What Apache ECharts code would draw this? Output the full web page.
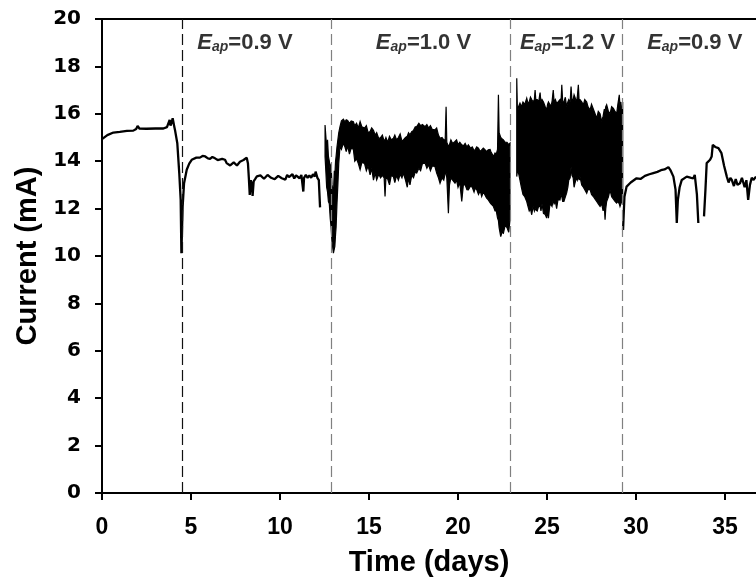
<!DOCTYPE html>
<html><head><meta charset="utf-8">
<script src="https://cdn.jsdelivr.net/npm/echarts@6/dist/echarts.min.js"></script>
<style>html,body{margin:0;padding:0;background:#fff}#c{width:756px;height:582px}</style>
</head><body><div id="c"></div>
<script>
// ---- tick labels ----
const xTickValues = [0, 5, 10, 15, 20, 25, 30, 35];
const yTickValues = [0, 2, 4, 6, 8, 10, 12, 14, 16, 18, 20];

// ---- trace before the noisy period (days, mA) ----
const timeA = [0, 0.1, 0.3, 0.64, 1.0, 1.4, 1.76, 1.92, 2.0, 2.1, 2.5, 3.0, 3.45, 3.65, 3.73, 3.8, 3.85, 3.9, 3.97, 4.05, 4.1, 4.23, 4.34, 4.42, 4.46, 4.53, 4.61, 4.76, 4.9, 5.04, 5.3, 5.5, 5.65, 5.8, 5.95, 6.07, 6.2, 6.35, 6.5, 6.6, 6.75, 6.91, 7.0, 7.1, 7.2, 7.29, 7.4, 7.5, 7.58, 7.66, 7.75, 7.85, 7.95, 8.03, 8.13, 8.2, 8.25, 8.3, 8.36, 8.42, 8.46, 8.52, 8.6, 8.7, 8.8, 8.9, 9.0, 9.1, 9.2, 9.3, 9.4, 9.5, 9.6, 9.7, 9.8, 9.9, 10.0, 10.1, 10.2, 10.3, 10.4, 10.5, 10.6, 10.7, 10.8, 10.9, 11.0, 11.1, 11.2, 11.27, 11.31, 11.35, 11.45, 11.55, 11.65, 11.75, 11.85, 11.95, 12.0, 12.1, 12.18, 12.25];
const currentA = [14.93, 15.0, 15.1, 15.21, 15.24, 15.28, 15.29, 15.36, 15.49, 15.38, 15.37, 15.38, 15.38, 15.44, 15.46, 15.74, 15.5, 15.6, 15.81, 15.5, 15.32, 14.76, 13.5, 12.37, 10.12, 12.09, 13.07, 13.64, 13.9, 14.06, 14.15, 14.15, 14.22, 14.2, 14.12, 14.1, 14.18, 14.12, 14.05, 14.0, 14.1, 14.06, 13.92, 13.95, 13.82, 13.85, 13.95, 13.95, 13.82, 13.85, 13.98, 13.95, 14.05, 14.06, 14.15, 13.9, 13.28, 12.58, 13.2, 13.0, 12.54, 13.15, 13.24, 13.36, 13.3, 13.4, 13.36, 13.26, 13.28, 13.42, 13.4, 13.3, 13.32, 13.24, 13.25, 13.38, 13.37, 13.28, 13.3, 13.22, 13.42, 13.33, 13.33, 13.45, 13.27, 13.4, 13.38, 13.28, 13.42, 13.35, 12.72, 13.3, 13.42, 13.3, 13.4, 13.3, 13.45, 13.35, 13.56, 13.3, 13.2, 12.05];

// ---- trace after the 1.2 V period ----
const timeB = [29.27, 29.35, 29.47, 29.7, 30.03, 30.25, 30.5, 30.75, 30.97, 31.2, 31.4, 31.6, 31.82, 31.95, 32.1, 32.22, 32.29, 32.35, 32.45, 32.57, 32.85, 33.1, 33.22, 33.3, 33.42, 33.5, 33.6, 33.82, 33.9, 33.97, 34.16, 34.25, 34.31, 34.45, 34.63, 34.8, 34.95, 35.1, 35.2, 35.3, 35.38, 35.5, 35.6, 35.7, 35.84, 35.95, 36.1, 36.2, 36.3, 36.4, 36.5, 36.59, 36.74];
const currentB = [11.1, 12.5, 12.93, 13.1, 13.28, 13.25, 13.38, 13.45, 13.5, 13.55, 13.62, 13.65, 13.75, 13.6, 13.35, 12.8, 11.39, 12.37, 12.9, 13.21, 13.35, 13.3, 13.28, 13.42, 12.6, 11.39, null, 11.67, 12.8, 13.92, 14.06, 14.2, 14.69, 14.6, 14.55, 14.34, 13.8, 13.35, 13.1, 13.3, 13.21, 12.95, 13.25, 13.0, 13.07, 13.3, 12.9, 13.2, 12.37, 13.0, 13.3, 13.21, 13.35];

// ---- noisy band, 1.0 V period: upper / lower envelope ----
const band1Time = [12.53, 12.58, 12.62, 12.67, 12.72, 12.77, 12.82, 12.87, 12.92, 12.97, 13.0, 13.05, 13.08, 13.12, 13.15, 13.2, 13.25, 13.3, 13.37, 13.45, 13.56, 13.65, 13.72, 13.8, 13.9, 14.0, 14.12, 14.2, 14.3, 14.4, 14.5, 14.6, 14.75, 14.85, 14.95, 15.06, 15.15, 15.25, 15.35, 15.43, 15.55, 15.65, 15.75, 15.85, 15.9, 15.95, 16.05, 16.15, 16.25, 16.37, 16.45, 16.55, 16.65, 16.75, 16.85, 16.93, 17.05, 17.15, 17.22, 17.3, 17.4, 17.5, 17.6, 17.68, 17.8, 17.9, 18.0, 18.15, 18.25, 18.35, 18.45, 18.55, 18.7, 18.8, 18.9, 18.99, 19.1, 19.2, 19.28, 19.33, 19.37, 19.46, 19.52, 19.6, 19.7, 19.83, 19.92, 20.0, 20.1, 20.21, 20.3, 20.4, 20.5, 20.58, 20.7, 20.8, 20.9, 20.96, 21.05, 21.15, 21.25, 21.33, 21.42, 21.5, 21.6, 21.7, 21.8, 21.85, 21.92, 21.99, 22.08, 22.15, 22.22, 22.27, 22.31, 22.4, 22.47, 22.55, 22.65, 22.75, 22.85, 22.92];
const band1High = [15.53, 15.0, 14.6, 14.9, 14.2, 14.0, 13.6, 13.9, 13.0, 12.8, 12.6, 13.6, 13.4, 14.0, 14.2, 14.6, 14.9, 15.2, 15.46, 15.7, 15.77, 15.65, 15.75, 15.72, 15.6, 15.7, 15.67, 15.5, 15.6, 15.4, 15.67, 15.45, 15.4, 15.5, 15.2, 15.25, 15.4, 15.3, 15.1, 15.2, 14.95, 15.0, 15.1, 14.85, 14.9, 15.0, 14.8, 15.05, 14.9, 14.97, 15.1, 14.9, 15.0, 15.15, 14.85, 14.9, 15.0, 15.05, 15.2, 15.11, 15.25, 15.3, 15.45, 15.46, 15.6, 15.5, 15.55, 15.46, 15.55, 15.4, 15.5, 15.35, 15.32, 15.4, 15.1, 14.97, 15.0, 14.9, 14.9, 16.3, 14.8, 14.62, 14.7, 14.9, 14.75, 14.83, 14.9, 14.7, 14.8, 14.69, 14.65, 14.75, 14.6, 14.69, 14.55, 14.6, 14.45, 14.48, 14.6, 14.55, 14.4, 14.48, 14.55, 14.5, 14.4, 14.48, 14.5, 14.4, 14.3, 14.2, 14.35, 14.3, 14.5, 16.8, 15.2, 15.0, 14.95, 14.9, 14.8, 14.8, 14.7, 14.76];
const band1Low = [14.2, 13.5, 12.9, 12.7, 12.3, 12.2, 11.6, 11.2, 10.6, 10.3, 10.12, 10.3, 10.4, 10.9, 11.2, 12.2, 13.0, 13.9, 14.62, 14.5, 14.76, 14.6, 14.4, 14.65, 14.3, 14.55, 14.5, 14.0, 14.1, 13.9, 13.64, 13.95, 13.9, 13.6, 13.8, 13.42, 13.7, 13.2, 13.5, 13.21, 13.45, 13.3, 13.4, 13.3, 12.51, 13.3, 13.25, 13.0, 13.4, 13.35, 13.1, 13.4, 13.2, 13.45, 13.3, 13.5, 13.2, 12.9, 13.3, 13.0, 13.4, 13.3, 13.55, 13.5, 13.7, 13.6, 13.9, 13.92, 13.7, 13.85, 13.6, 13.8, 13.78, 13.5, 13.3, 13.07, 13.3, 13.2, 13.5, 13.5, 13.3, 11.81, 13.0, 13.3, 13.2, 13.07, 13.2, 12.9, 13.1, 12.3, 13.0, 13.0, 12.8, 12.79, 12.95, 12.9, 12.7, 12.86, 12.8, 12.6, 12.75, 12.51, 12.7, 12.6, 12.45, 12.37, 12.25, 12.2, 12.15, 12.09, 11.9, 11.9, 11.6, 11.5, 11.2, 10.82, 11.0, 10.96, 11.3, 11.2, 11.0, 11.53];

// ---- noisy band, 1.2 V period ----
const band2Time = [23.3, 23.34, 23.4, 23.48, 23.56, 23.65, 23.75, 23.86, 23.93, 24.0, 24.07, 24.14, 24.22, 24.29, 24.33, 24.37, 24.45, 24.53, 24.61, 24.66, 24.72, 24.8, 24.9, 24.98, 25.03, 25.08, 25.15, 25.2, 25.28, 25.35, 25.4, 25.47, 25.54, 25.62, 25.73, 25.78, 25.83, 25.88, 25.95, 26.03, 26.1, 26.17, 26.22, 26.3, 26.35, 26.4, 26.47, 26.52, 26.57, 26.65, 26.7, 26.76, 26.8, 26.85, 26.95, 27.04, 27.12, 27.23, 27.3, 27.42, 27.5, 27.6, 27.7, 27.79, 27.88, 27.98, 28.07, 28.15, 28.22, 28.26, 28.3, 28.35, 28.45, 28.54, 28.63, 28.73, 28.82, 28.91, 28.98, 29.06, 29.1, 29.15, 29.2, 29.25];
const band2High = [17.5, 16.0, 16.3, 16.45, 16.3, 16.5, 16.4, 16.66, 16.45, 16.5, 16.7, 16.6, 16.5, 16.6, 17.0, 16.6, 16.6, 16.5, 16.9, 16.5, 16.6, 16.5, 16.3, 16.16, 16.4, 16.5, 16.4, 16.3, 16.5, 17.0, 16.5, 16.6, 16.45, 16.5, 16.6, 16.4, 17.22, 16.5, 16.5, 16.7, 16.3, 16.5, 16.6, 16.5, 17.15, 16.6, 16.6, 16.8, 16.7, 16.5, 16.7, 17.22, 16.6, 16.6, 16.5, 16.38, 16.6, 16.5, 16.3, 16.16, 16.4, 16.2, 16.0, 15.81, 16.1, 16.0, 15.67, 15.9, 16.2, 16.1, 16.3, 16.38, 16.1, 16.0, 16.3, 16.23, 16.1, 16.0, 16.4, 16.8, 16.3, 16.5, 15.88, 16.5];
const band2Low = [13.35, 13.6, 13.5, 13.2, 12.9, 12.6, 12.5, 12.3, 12.1, 11.9, 12.0, 11.74, 12.1, 11.9, 12.0, 11.95, 11.9, 12.1, 12.09, 11.9, 12.2, 11.8, 11.75, 11.6, 12.0, 11.6, 12.1, 12.2, 12.1, 12.37, 12.2, 12.3, 12.0, 12.4, 12.37, 12.6, 12.5, 12.3, 12.3, 12.5, 12.65, 12.9, 13.2, 13.3, 13.78, 13.4, 13.3, 12.9, 13.07, 13.3, 13.2, 13.4, 13.2, 13.35, 13.0, 12.9, 12.8, 12.65, 12.8, 12.8, 12.6, 12.51, 12.4, 12.3, 12.2, 12.09, 12.2, 11.9, 12.1, 11.53, 12.0, 12.3, 12.5, 12.79, 12.5, 12.4, 12.3, 12.23, 12.3, 12.2, 12.09, 12.2, 12.3, 12.5];

// ---- potential switches and labels ----
const switchDays = [4.5, 12.87, 22.92, 29.25];
const switchColors = ['#111111', '#808080', '#808080', '#808080'];
const labelDays = [8.03, 18.06, 26.15, 33.3];
const labelVolts = ['0.9', '1.0', '1.2', '0.9'];
const labelLevel = 18.99;

const pairs = (t, v) => t.map((x, i) => [x, v[i] == null ? '-' : v[i]]);
const bands = [
  { t: band1Time, hi: band1High, lo: band1Low },
  { t: band2Time, hi: band2High, lo: band2Low }
];

const chart = echarts.init(document.getElementById('c'), null, { renderer: 'canvas' });
const lblFont = 'Liberation Sans, Arial, sans-serif';

chart.setOption({
  animation: false,
  backgroundColor: '#ffffff',
  grid: { left: 102, right: 0, top: 19, bottom: 88.5, containLabel: false },
  xAxis: [{
    type: 'value', min: 0, max: 36.74, position: 'bottom',
    name: 'Time (days)', nameLocation: 'middle', nameGap: 55,
    nameTextStyle: { fontFamily: lblFont, fontWeight: 'bold', fontSize: 29, color: '#000' },
    axisLine: { show: true, onZero: false, lineStyle: { color: '#000', width: 2 } },
    axisTick: { show: true, inside: false, length: 7, lineStyle: { color: '#000', width: 2 }, customValues: xTickValues },
    axisLabel: { margin: 23, fontFamily: lblFont, fontWeight: 'bold', fontSize: 23, color: '#000', customValues: xTickValues },
    splitLine: { show: false }
  }, {
    type: 'value', min: 0, max: 36.74, position: 'top',
    axisLine: { show: true, onZero: false, lineStyle: { color: '#000', width: 2 } },
    axisTick: { show: false }, axisLabel: { show: false }, splitLine: { show: false }
  }],
  yAxis: {
    type: 'value', min: 0, max: 20, interval: 2,
    name: 'Current (mA)', nameLocation: 'middle', nameGap: 59,
    nameTextStyle: { fontFamily: lblFont, fontWeight: 'bold', fontSize: 29, color: '#000' },
    axisLine: { show: true, onZero: false, lineStyle: { color: '#000', width: 2 } },
    axisTick: { show: true, inside: false, length: 7, lineStyle: { color: '#000', width: 2 } },
    axisLabel: { margin: 21, fontFamily: 'DejaVu Sans, sans-serif', fontWeight: 'bold', fontSize: 20, color: '#000',
      customValues: yTickValues },
    splitLine: { show: false }
  },
  series: [
    {
      type: 'custom', coordinateSystem: 'cartesian2d', silent: true, clip: true, z: 3,
      data: bands.map((b, i) => [b.t[0], b.hi[0], i]),
      renderItem: (params, api) => {
        const b = bands[params.dataIndex];
        const pts = [];
        for (let i = 0; i < b.t.length; i++) pts.push(api.coord([b.t[i], b.hi[i]]));
        for (let i = b.t.length - 1; i >= 0; i--) pts.push(api.coord([b.t[i], b.lo[i]]));
        return { type: 'polygon', shape: { points: pts }, style: { fill: '#000', stroke: '#000', lineWidth: 1.2, lineJoin: 'miter', miterLimit: 4 } };
      }
    },
    {
      type: 'line', data: pairs(timeA, currentA), showSymbol: false, symbol: 'none', z: 3,
      lineStyle: { color: '#000', width: 2.3 }, connectNulls: false,
      markLine: {
        silent: true, symbol: ['none', 'none'], label: { show: false },
        data: switchDays.map((d, i) => ({ xAxis: d, lineStyle: { color: switchColors[i], type: [11, 5], width: 1.2 } }))
      }
    },
    {
      type: 'line', data: pairs(timeB, currentB), showSymbol: false, symbol: 'none', z: 3,
      lineStyle: { color: '#000', width: 2.3 }, connectNulls: false
    },
    {
      type: 'scatter', symbolSize: 0, silent: true, z: 5,
      data: labelDays.map((d) => [d, labelLevel]),
      label: {
        show: true, position: 'inside', align: 'center', verticalAlign: 'middle',
        formatter: (p) => '{e|E}{s|ap}{n|=' + labelVolts[p.dataIndex] + ' V}',
        rich: {
          e: { fontFamily: lblFont, fontWeight: 'bold', fontStyle: 'italic', fontSize: 22, lineHeight: 22, verticalAlign: 'top', color: '#000' },
          s: { fontFamily: lblFont, fontWeight: 'bold', fontStyle: 'italic', fontSize: 14, lineHeight: 14, verticalAlign: 'bottom', padding: [11, 0, 0, 0], color: '#000' },
          n: { fontFamily: lblFont, fontWeight: 'bold', fontSize: 22, lineHeight: 22, verticalAlign: 'top', color: '#000' }
        }
      }
    }
  ]
});
</script></body></html>
